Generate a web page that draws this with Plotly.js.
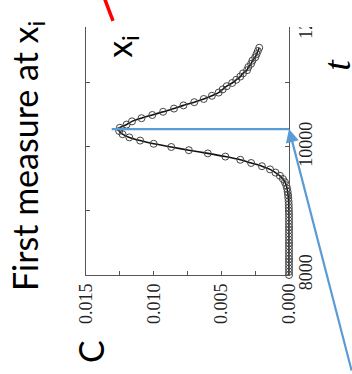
<!DOCTYPE html>
<html>
<head>
<meta charset="utf-8">
<script src="https://cdn.plot.ly/plotly-3.0.1.min.js"></script>
<style>html,body{margin:0;padding:0;background:#fff;}#chart{width:352px;height:374px;}</style>
</head>
<body>
<div id="chart"></div>
<script>
// time t (vertical axis in the rotated picture)
const tValues = [8000,8050,8100,8150,8200,8250,8300,8350,8400,8450,8500,8550,8600,8650,8700,8750,8800,8850,8900,8950,
  9000,9050,9100,9150,9200,9250,9300,9350,9400,9450,9500,9550,9600,9650,9700,9750,9800,9850,9900,9950,
  10000,10050,10100,10150,10200,10250,10300,10350,10400,10450,10500,10550,10600,10650,10700,10750,10800,10850,10900,10950,
  11000,11050,11100,11150,11200,11250,11300,11350,11400,11450,11500,11550];
// concentration C at the first measuring point x_i
const cValues = [0,0,0,0,0,0,0,0,0,0,0,0,0,0,0,0,0,0,0,0,
  0.00001,0.00001,0.00002,0.00003,0.00005,0.00007,0.0001,0.00014,0.0002,0.0003,0.00045,0.00067,0.001,0.0014,0.002,0.0028,0.0036,0.0047,0.006,0.0074,
  0.0087,0.0100,0.0110,0.0118,0.0123,0.01255,0.0125,0.0120,0.0116,0.0109,0.0101,0.0093,0.0085,0.0078,0.0070,0.0063,0.0057,0.0052,0.0049,0.0046,
  0.0042,0.0039,0.0036,0.0034,0.0031,0.0030,0.0028,0.0027,0.0025,0.0024,0.0023,0.0022];
const cTickVals = [0,0.0025,0.005,0.0075,0.01,0.0125,0.015];
const cTickText = ['0.000','','0.005','','0.010','','0.015'];
const tTickVals = [8000,9000,10000,11000,12000];
const tTickText = ['8000','','10000','','12000'];
const markT = 10280;      // time of the peak marked by the blue line
const markCStart = 0.0131; // blue line starts just past the peak

const blue = '#5b9bd5';
const tickFont = {family:'Liberation Serif, Times New Roman, serif', size:18, color:'#222'};

const traces = [{
  x: cValues, y: tValues, type:'scatter', mode:'lines+markers',
  line:{color:'#111', width:1.6, shape:'spline', smoothing:0.6},
  marker:{symbol:'circle-open', size:7, color:'#444', line:{width:1, color:'#444'}},
  cliponaxis:false, hoverinfo:'skip'
}];

const layout = {
  width:352, height:374,
  margin:{l:86, r:63, t:12, b:99},
  paper_bgcolor:'#fff', plot_bgcolor:'#fff',
  showlegend:false,
  xaxis:{range:[0.015,0], tickvals:cTickVals, ticktext:cTickText, ticks:'inside', ticklen:4, tickcolor:'#555',
    showline:true, linecolor:'#555', linewidth:1.2, showgrid:false, zeroline:false, tickangle:-90, tickfont:tickFont,
    ticklabeloverflow:'allow'},
  yaxis:{range:[8000,12109], side:'right', tickvals:tTickVals, ticktext:tTickText, ticks:'inside', ticklen:4, tickcolor:'#555',
    mirror:'ticks', showline:true, linecolor:'#555', linewidth:1.2, showgrid:false, zeroline:false, tickangle:-90, tickfont:tickFont,
    ticklabeloverflow:'allow'},
  shapes:[
    {type:'rect', xref:'paper', yref:'paper', x0:-0.5, x1:1.5, y0:0.943, y1:1.3, fillcolor:'#fff', line:{width:0}, layer:'above'},
    {type:'line', xref:'paper', yref:'paper', x0:0.0887, y0:1.057, x1:0.133, y1:0.966, line:{color:'#ff0000', width:3.5}, layer:'above'},
    {type:'line', xref:'x', yref:'y', x0:markCStart, x1:0, y0:markT, y1:markT, line:{color:blue, width:2.2}, layer:'above'}
  ],
  annotations:[
    {x:0, y:markT, xref:'x', yref:'y', ax:63, ay:243, text:'', showarrow:true, arrowhead:2, arrowsize:1.2, arrowwidth:2.2, arrowcolor:blue, standoff:0},
    {x:-0.291, y:0.452, xref:'paper', yref:'paper', text:'First measure at x<sub>i</sub>', textangle:-90, showarrow:false,
      xanchor:'center', yanchor:'middle', font:{family:'Lato, sans-serif', size:34, color:'#000'}},
    {x:0.172, y:0.871, xref:'paper', yref:'paper', text:'x<sub>i</sub>', textangle:-90, showarrow:false,
      xanchor:'center', yanchor:'middle', font:{family:'Lato, sans-serif', size:34, color:'#000'}},
    {x:1.235, y:0.798, xref:'paper', yref:'paper', text:'<i>t</i>', textangle:-90, showarrow:false,
      xanchor:'center', yanchor:'middle', font:{family:'Liberation Serif, serif', size:38, color:'#000'}},
    {x:0.0197, y:-0.289, xref:'paper', yref:'paper', text:'C', textangle:-90, showarrow:false,
      xanchor:'center', yanchor:'middle', font:{family:'Lato, sans-serif', size:34, color:'#000'}}
  ]
};

Plotly.newPlot('chart', traces, layout, {staticPlot:true, displayModeBar:false});
</script>
</body>
</html>
